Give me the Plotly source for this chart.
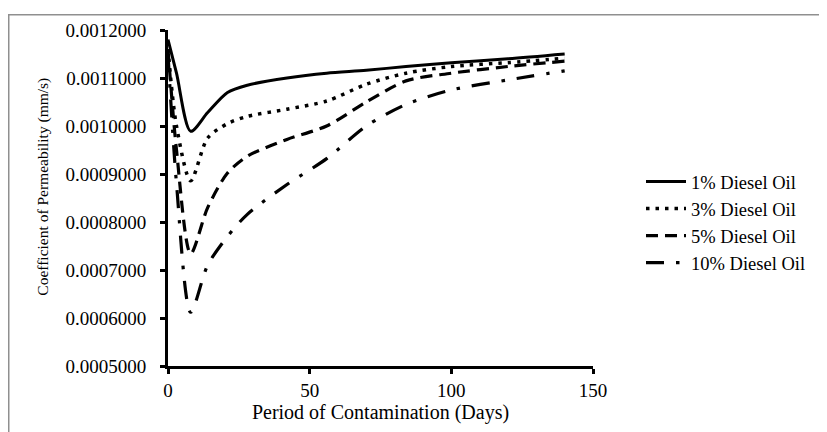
import plotly.graph_objects as go

# ---- data ----
days = [0, 3, 8, 14, 21, 28, 42, 56, 70, 84, 100, 120, 140]

diesel_1 = [0.001180, 0.001110, 0.000989, 0.001028, 0.001070, 0.001085, 0.001100,
            0.001110, 0.001116, 0.001124, 0.001132, 0.001140, 0.001150]
diesel_3 = [0.001160, 0.001000, 0.000886, 0.000975, 0.001005, 0.001020, 0.001035,
            0.001052, 0.001087, 0.001110, 0.001124, 0.001132, 0.001141]
diesel_5 = [0.001160, 0.000950, 0.000734, 0.000830, 0.000902, 0.000937, 0.000972,
            0.001000, 0.001050, 0.001094, 0.001110, 0.001124, 0.001135]
diesel_10 = [0.001150, 0.000880, 0.000612, 0.000710, 0.000770, 0.000816, 0.000878,
             0.000932, 0.001000, 0.001045, 0.001075, 0.001096, 0.001115]

series_names = ["1% Diesel Oil", "3% Diesel Oil", "5% Diesel Oil", "10% Diesel Oil"]
series_values = [diesel_1, diesel_3, diesel_5, diesel_10]

x_ticks = [0, 50, 100, 150]
y_ticks = [0.0005, 0.0006, 0.0007, 0.0008, 0.0009, 0.0010, 0.0011, 0.0012]
y_tick_labels = ["0.0005000", "0.0006000", "0.0007000", "0.0008000",
                 "0.0009000", "0.0010000", "0.0011000", "0.0012000"]

# ---- styles ----
styles = [
    dict(width=3, dash="solid"),
    dict(width=3.5, dash="3.5px,6px"),
    dict(width=3.2, dash="12px,7px"),
    dict(width=3.2, dash="18px,12px,3.5px,12px"),
]

FONT = "Liberation Serif, Times New Roman, serif"

fig = go.Figure()
for name, vals, st in zip(series_names, series_values, styles):
    fig.add_trace(go.Scatter(
        x=days, y=vals, name=name, mode="lines",
        line=dict(color="black", width=st["width"], dash=st["dash"],
                  shape="spline", smoothing=0.8),
    ))

# page body has an 8px margin, so the figure is sized to fill the window
W, H = 819, 424
L, R, T, B = 160, 234, 17, 66
pw = W - L - R
ph = H - T - B

def px_x(x):
    return (x - L) / pw

def px_y(y):
    return (H - B - y) / ph

fig.update_layout(
    width=W, height=H,
    margin=dict(l=L, r=R, t=T, b=B),
    paper_bgcolor="white", plot_bgcolor="white",
    font=dict(family=FONT, size=19, color="black"),
    showlegend=True,
    legend=dict(
        x=px_x(633), xanchor="left",
        y=px_y(152), yanchor="top",
        font=dict(family=FONT, size=18.5, color="black"),
        bgcolor="rgba(0,0,0,0)", borderwidth=0,
        traceorder="normal", itemwidth=40,
    ),
    xaxis=dict(
        range=[0, 150], tickvals=x_ticks, ticktext=[str(v) for v in x_ticks],
        showgrid=False, zeroline=False,
        showline=True, linecolor="black", linewidth=3,
        ticks="outside", ticklen=5, tickwidth=2.5, tickcolor="black",
        tickfont=dict(family=FONT, size=19),
        title=dict(text="Period of Contamination (Days)",
                   font=dict(family=FONT, size=20), standoff=4),
    ),
    yaxis=dict(
        range=[0.0005, 0.0012], tickvals=y_ticks, ticktext=y_tick_labels,
        showgrid=False, zeroline=False,
        showline=True, linecolor="black", linewidth=3,
        ticks="outside", ticklen=5, tickwidth=2.5, tickcolor="black",
        tickfont=dict(family=FONT, size=19), ticklabelstandoff=10,
    ),
    annotations=[dict(
        text="Coefficient of Permeability (mm/s)", textangle=-90,
        xref="paper", yref="paper", x=px_x(35), y=px_y(176),
        xanchor="center", yanchor="middle", showarrow=False,
        font=dict(family=FONT, size=15.5, color="black"),
    )],
    shapes=[dict(
        type="rect", xref="paper", yref="paper",
        x0=px_x(0.75), x1=px_x(W + 20),
        y0=px_y(H + 20), y1=px_y(1.5),
        line=dict(color="#8f8f8f", width=1.5), fillcolor="rgba(0,0,0,0)",
        layer="below",
    )],
)

fig.write_html("out.html")
